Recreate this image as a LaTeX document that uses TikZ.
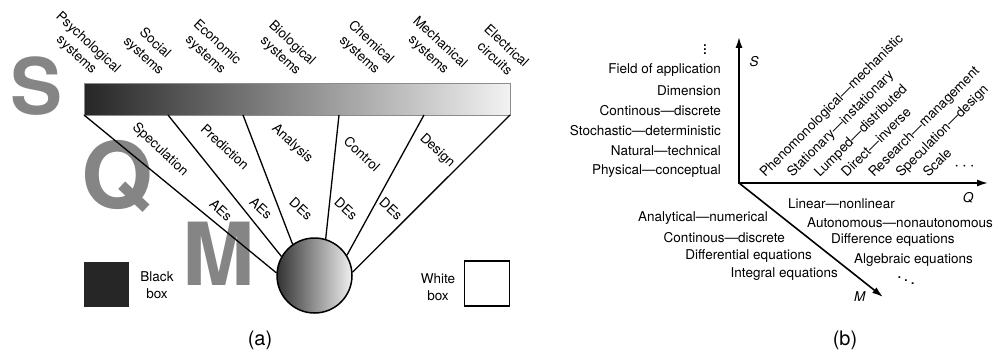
\documentclass[tikz,border=0pt]{standalone}
\usepackage{fontspec}
\setmainfont{TeX Gyre Heros}
\usepackage{amsmath}
\usetikzlibrary{arrows.meta}

\definecolor{lettergray}{HTML}{858585}
\definecolor{boxblack}{HTML}{262626}

\begin{document}
\begin{tikzpicture}[x=1pt,y=-1pt,
  every node/.style={font=\fontsize{13.5}{17}\selectfont},
  bigletter/.style={text=lettergray,inner sep=0},
  sys/.style={rotate=-43,align=center,inner sep=0},
  task/.style={rotate=-43,inner sep=0},
  spoke/.style={line width=1.3pt},
  axisarrow/.style={line width=1.6pt},
  diag/.style={rotate=45,anchor=base west,inner sep=0},
  prop/.style={inner sep=0},
  dots/.style={font=\fontsize{17}{17}\selectfont,inner sep=0},
  caption/.style={font=\fontsize{20}{20}\selectfont}]
\useasboundingbox (0,0) rectangle (995,353);

% (a) from black box to white box
\node[bigletter,font=\fontsize{78}{78}\selectfont\bfseries] (S) at (37,86) {S};
\node[bigletter,font=\fontsize{92}{92}\selectfont\bfseries] (Q) at (117,176) {Q};
\node[bigletter,font=\fontsize{87}{87}\selectfont\bfseries] (M) at (219,254) {M};

\node[minimum width=426pt,minimum height=32pt,inner sep=0,
  left color=black!85,right color=black!5,draw=black!45,line width=0.6pt] (bar) at (297,99) {};
\node[circle,minimum size=75pt,inner sep=0,
  left color=black!80,right color=black!6,draw=black,line width=1.5pt] (ball) at (314.5,275.5) {};

\foreach \x [count=\i] in {84,168,243,339,424,510}
  \coordinate (top\i) at (\x,115);

\path[spoke]
(top1) edge (ball.176)
(top2) edge (ball.150)
(top3) edge (ball.125)
(top4) edge (ball.73)
(top5) edge (ball.32)
(top6) edge (ball.5);

% kinds of systems
\node[sys] (psy) at (82,49) {Psychological\\systems};
\node[sys] (soc) at (149,50) {Social\\systems};
\node[sys] (eco) at (211,49) {Economic\\systems};
\node[sys] (bio) at (286,50) {Biological\\systems};
\node[sys] (che) at (365,49) {Chemical\\systems};
\node[sys] (mec) at (434,49) {Mechanical\\systems};
\node[sys] (ele) at (501,52) {Electrical\\circuits};

% purposes and equations
\node[task] (spec) at (160,150) {Speculation};
\node[task] (pred) at (225,147) {Prediction};
\node[task] (anal) at (292,144) {Analysis};
\node[task] (ctrl) at (362,154) {Control};
\node[task] (desg) at (437,151) {Design};
\node[task] (ae1) at (221,210) {AEs};
\node[task] (ae2) at (261,208) {AEs};
\node[task] (de1) at (301,209) {DEs};
\node[task] (de2) at (346,209) {DEs};
\node[task] (de3) at (391,209) {DEs};

\node[fill=boxblack,minimum size=45pt,inner sep=0] (bbox) at (106.5,284) {};
\node[align=center] (blabel) at (157,285) {Black\\box};
\node[draw,line width=1.3pt,minimum size=45pt,inner sep=0] (wbox) at (487,283.5) {};
\node[align=center] (wlabel) at (438,287) {White\\box};
\node[caption] (capa) at (260,340) {(a)};

% (b) S-Q-M axes
\coordinate (O) at (739,183);
\coordinate (Send) at (739,37);
\coordinate (Qend) at (988,183);
\coordinate (Mend) at (883,297);
\draw[axisarrow,{Latex[length=11pt,width=7pt]}-{Latex[length=11pt,width=7pt]}] (Send) -- (O) -- (Qend);
\draw[axisarrow,-{Latex[length=11pt,width=7pt]}] (O) -- (Mend);
\node (Slab) at (754,62) {\textit{S}};
\node (Qlab) at (968,198) {\textit{Q}};
\node (Mlab) at (860,297) {\textit{M}};

% system properties
\node[dots] (vd) at (705,47) {$\vdots$};
\foreach \t [count=\i] in {Field of application,Dimension,Continous—discrete,Stochastic—deterministic,Natural—technical,Physical—conceptual}
  \node[prop,anchor=east] (f\i) at (721,50+20.2*\i) {\t};

% question properties
\foreach \t [count=\i] in {Phenomonological—mechanistic,Stationary—instationary,Lumped—distributed,Direct—inverse,Research—management,Speculation—design,Scale}
  \node[diag] (d\i) at (738+27.2*\i,178) {\t};
\node[dots] (hd) at (966,167) {$\cdots$};

% model properties
\node[prop,anchor=east] (m1) at (768,218) {Analytical—numerical};
\node[prop,anchor=east] (m2) at (785,238) {Continous—discrete};
\node[prop,anchor=east] (m3) at (812,256) {Differential equations};
\node[prop,anchor=east] (m4) at (838,274) {Integral equations};
\node[prop,anchor=west] (n1) at (788,204) {Linear—nonlinear};
\node[prop,anchor=west] (n2) at (807,223) {Autonomous—nonautonomous};
\node[prop,anchor=west] (n3) at (831,240) {Difference equations};
\node[prop,anchor=west] (n4) at (854,260) {Algebraic equations};
\node[dots] (dd) at (906,278) {$\ddots$};
\node[caption] (capb) at (845,340) {(b)};
\end{tikzpicture}
\end{document}
